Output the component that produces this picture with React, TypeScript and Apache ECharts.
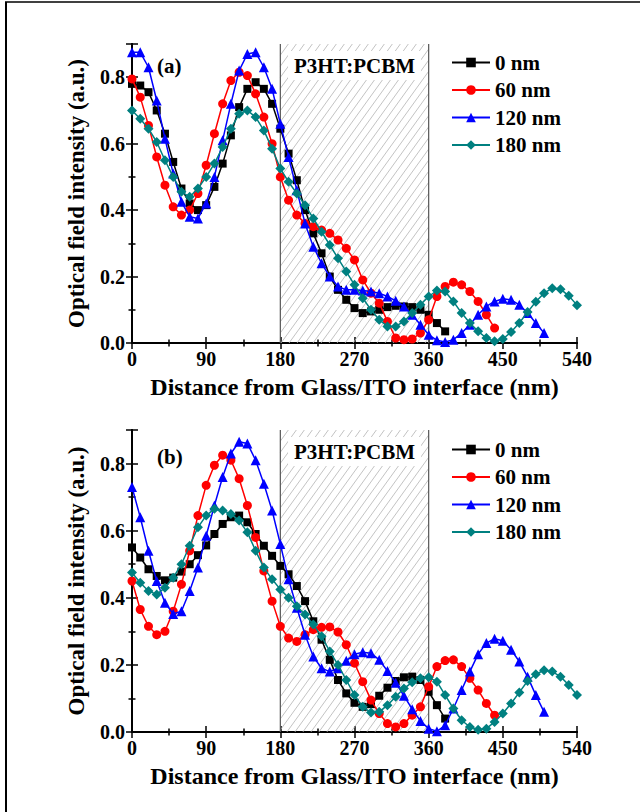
import React, { useEffect, useRef } from 'react';
import * as echarts from 'echarts';

// Distance from Glass/ITO interface (nm), sample positions
const distance = [
  0, 10, 20, 30, 40, 50, 60, 70, 80, 90, 100, 110, 120, 130, 140, 150, 160, 170, 180, 190,
  200, 210, 220, 230, 240, 250, 260, 270, 280, 290, 300, 310, 320, 330, 340, 350, 360, 370, 380, 390,
  400, 410, 420, 430, 440, 450, 460, 470, 480, 490, 500, 510, 520, 530, 540,
];

const seriesNames = ['0 nm', '60 nm', '120 nm', '180 nm'];

// Panel (a)
const a0nm = [
  0.78, 0.775, 0.755, 0.70, 0.63, 0.545, 0.465, 0.42, 0.40, 0.415, 0.47, 0.54, 0.625, 0.71, 0.765, 0.785, 0.765, 0.72, 0.645, 0.57,
  0.49, 0.40, 0.33, 0.27, 0.20, 0.16, 0.13, 0.105, 0.09, 0.095, 0.10, 0.108, 0.112, 0.11, 0.108, 0.10, 0.085, 0.06, 0.035,
];
const a60nm = [
  0.795, 0.74, 0.655, 0.56, 0.475, 0.41, 0.385, 0.40, 0.45, 0.535, 0.63, 0.72, 0.79, 0.815, 0.805, 0.75, 0.68, 0.60, 0.50, 0.43,
  0.385, 0.36, 0.35, 0.34, 0.33, 0.31, 0.285, 0.25, 0.19, 0.15, 0.12, 0.065, 0.015, 0.01, 0.012, 0.03, 0.07, 0.14, 0.17, 0.183,
  0.175, 0.155, 0.125, 0.085, 0.045,
];
const a120nm = [
  0.875, 0.875, 0.83, 0.73, 0.615, 0.51, 0.425, 0.38, 0.375, 0.42, 0.50, 0.61, 0.72, 0.82, 0.87, 0.875, 0.83, 0.765, 0.66, 0.56,
  0.46, 0.36, 0.29, 0.24, 0.20, 0.17, 0.16, 0.16, 0.158, 0.155, 0.15, 0.14, 0.127, 0.11, 0.085, 0.055, 0.025, 0.008, 0.003, 0.01,
  0.03, 0.055, 0.085, 0.11, 0.125, 0.133, 0.13, 0.115, 0.09, 0.06, 0.03,
];
const a180nm = [
  0.70, 0.675, 0.645, 0.605, 0.55, 0.50, 0.455, 0.44, 0.465, 0.50, 0.54, 0.59, 0.645, 0.69, 0.70, 0.68, 0.64, 0.585, 0.525, 0.485,
  0.45, 0.415, 0.375, 0.335, 0.295, 0.255, 0.215, 0.175, 0.135, 0.10, 0.07, 0.05, 0.05, 0.065, 0.09, 0.115, 0.14, 0.158, 0.155, 0.125,
  0.09, 0.06, 0.035, 0.015, 0.005, 0.012, 0.033, 0.06, 0.093, 0.124, 0.15, 0.165, 0.162, 0.142, 0.114,
];

// Panel (b)
const b0nm = [
  0.55, 0.52, 0.485, 0.465, 0.452, 0.46, 0.478, 0.50, 0.527, 0.556, 0.59, 0.62, 0.64, 0.645, 0.625, 0.59, 0.555, 0.525, 0.495, 0.47,
  0.435, 0.39, 0.33, 0.275, 0.215, 0.155, 0.115, 0.087, 0.075, 0.083, 0.108, 0.132, 0.152, 0.163, 0.165, 0.155, 0.12, 0.08, 0.04,
];
const b60nm = [
  0.45, 0.365, 0.315, 0.29, 0.30, 0.36, 0.44, 0.54, 0.645, 0.735, 0.795, 0.825, 0.81, 0.755, 0.675, 0.58, 0.48, 0.39, 0.315, 0.28,
  0.27, 0.29, 0.305, 0.312, 0.313, 0.298, 0.26, 0.205, 0.15, 0.095, 0.055, 0.025, 0.015, 0.025, 0.05, 0.075, 0.135, 0.195, 0.213, 0.215,
  0.195, 0.16, 0.125, 0.085, 0.05,
];
const b120nm = [
  0.73, 0.64, 0.54, 0.45, 0.385, 0.352, 0.36, 0.42, 0.49, 0.585, 0.675, 0.76, 0.83, 0.865, 0.86, 0.81, 0.74, 0.66, 0.56, 0.455,
  0.37, 0.29, 0.225, 0.19, 0.18, 0.19, 0.212, 0.232, 0.238, 0.235, 0.215, 0.182, 0.147, 0.108, 0.068, 0.033, 0.01, 0.002, 0.02, 0.07,
  0.125, 0.18, 0.232, 0.265, 0.278, 0.272, 0.245, 0.21, 0.165, 0.11, 0.06,
];
const b180nm = [
  0.475, 0.445, 0.42, 0.41, 0.43, 0.46, 0.50, 0.555, 0.61, 0.645, 0.665, 0.66, 0.65, 0.63, 0.595, 0.54, 0.49, 0.455, 0.425, 0.40,
  0.375, 0.35, 0.32, 0.285, 0.24, 0.20, 0.155, 0.11, 0.075, 0.058, 0.06, 0.08, 0.105, 0.13, 0.148, 0.16, 0.163, 0.15, 0.11, 0.07,
  0.035, 0.015, 0.007, 0.01, 0.03, 0.055, 0.085, 0.118, 0.152, 0.172, 0.184, 0.18, 0.165, 0.14, 0.11,
];

const panelA = [a0nm, a60nm, a120nm, a180nm];
const panelB = [b0nm, b60nm, b120nm, b180nm];

const layerStart = 180;
const layerEnd = 360;
const layerLabel = 'P3HT:PCBM';
const xMin = 0;
const xMax = 540;
const xInterval = 90;
const yMin = 0;
const yMax = 0.9;
const yInterval = 0.2;
const xName = 'Distance from Glass/ITO interface (nm)';
const yName = 'Optical field intensity (a.u.)';
const panelLabels = ['(a)', '(b)'];

const FONT = '"Liberation Serif", "Times New Roman", serif';
const colors = ['#000000', '#ff0000', '#0000ff', '#008080'];
const symbols = ['rect', 'circle', 'triangle', 'diamond'];
const symbolSizes = [8, 9, 10, 10];

function App() {
  const ref = useRef<HTMLDivElement>(null);

  useEffect(() => {
    if (!ref.current) return;
    const chart = echarts.init(ref.current, null, { renderer: 'svg' });

    const grids = [
      { left: 132, top: 44, width: 445, height: 299 },
      { left: 132, top: 430, width: 445, height: 302 },
    ];

    const xAxes: any[] = [];
    const yAxes: any[] = [];
    grids.forEach((_, gi) => {
      xAxes.push({
        type: 'value', gridIndex: gi, position: 'bottom', min: xMin, max: xMax, interval: xInterval,
        name: xName, nameLocation: 'middle', nameGap: 32,
        nameTextStyle: { fontFamily: FONT, fontWeight: 'bold', fontSize: 24, color: '#000' },
        axisLine: { show: true, lineStyle: { color: '#000', width: 2 } },
        axisTick: { show: true, inside: true, length: 6, lineStyle: { color: '#000', width: 1.5 } },
        minorTick: { show: true, splitNumber: 2, length: 3.5, lineStyle: { color: '#000', width: 1.5 } },
        splitLine: { show: false },
        axisLabel: { show: true, margin: 6, fontFamily: FONT, fontWeight: 'bold', fontSize: 20, color: '#000' },
      });
      xAxes.push({
        type: 'value', gridIndex: gi, position: 'top', min: xMin, max: xMax, interval: xInterval,
        axisLine: { show: true, lineStyle: { color: '#000', width: 2 } },
        axisTick: { show: true, inside: true, length: 6, lineStyle: { color: '#000', width: 1.5 } },
        minorTick: { show: true, splitNumber: 2, length: 3.5, lineStyle: { color: '#000', width: 1.5 } },
        splitLine: { show: false },
        axisLabel: { show: false },
      });
      yAxes.push({
        type: 'value', gridIndex: gi, position: 'left', min: yMin, max: yMax, interval: yInterval,
        name: yName, nameLocation: 'middle', nameGap: 44,
        nameTextStyle: { fontFamily: FONT, fontWeight: 'bold', fontSize: 23, color: '#000' },
        axisLine: { show: true, lineStyle: { color: '#000', width: 2 } },
        axisTick: { show: true, inside: true, length: 6, lineStyle: { color: '#000', width: 1.5 } },
        minorTick: { show: true, splitNumber: 2, length: 3.5, lineStyle: { color: '#000', width: 1.5 } },
        splitLine: { show: false },
        axisLabel: {
          show: true, margin: 7, fontFamily: FONT, fontWeight: 'bold', fontSize: 20, color: '#000',
          formatter: (v: number) => (v > 0.85 ? '' : v.toFixed(1)),
        },
      });
      yAxes.push({
        type: 'value', gridIndex: gi, position: 'right', min: yMin, max: yMax, interval: yInterval,
        axisLine: { show: true, lineStyle: { color: '#000', width: 2 } },
        axisTick: { show: true, inside: true, length: 6, lineStyle: { color: '#000', width: 1.5 } },
        minorTick: { show: true, splitNumber: 2, length: 3.5, lineStyle: { color: '#000', width: 1.5 } },
        splitLine: { show: false },
        axisLabel: { show: false },
      });
    });

    const series: any[] = [];
    [panelA, panelB].forEach((panel, pi) => {
      series.push({
        type: 'custom',
        name: 'layer' + pi,
        xAxisIndex: pi * 2,
        yAxisIndex: pi * 2,
        silent: true,
        z: 1,
        data: [[layerStart, layerEnd]],
        renderItem: (params: any, api: any) => {
          const tl = api.coord([layerStart, yMax]);
          const br = api.coord([layerEnd, yMin]);
          const x0 = tl[0], y0 = tl[1], x1 = br[0], y1 = br[1];
          const h = y1 - y0;
          const s = 0.72;
          const step = 8;
          const children: any[] = [];
          for (let c = x0 - h * s; c < x1; c += step) {
            let xa = c, ya = y1, xb = c + h * s, yb = y0;
            if (xa < x0) { ya = y1 - (x0 - c) / s; xa = x0; }
            if (xb > x1) { yb = y1 - (x1 - c) / s; xb = x1; }
            if (ya <= yb) continue;
            children.push({
              type: 'line',
              shape: { x1: xa, y1: ya, x2: xb, y2: yb },
              style: { stroke: '#b4b4b4', lineWidth: 0.8 },
            });
          }
          children.push({ type: 'line', shape: { x1: x0, y1: y0, x2: x0, y2: y1 }, style: { stroke: '#555', lineWidth: 1.2 } });
          children.push({ type: 'line', shape: { x1: x1, y1: y0, x2: x1, y2: y1 }, style: { stroke: '#555', lineWidth: 1.2 } });
          children.push({
            type: 'text',
            x: (x0 + x1) / 2,
            y: y0 + 7,
            style: {
              text: layerLabel,
              fill: '#000',
              font: 'bold 21px ' + FONT,
              align: 'center',
              verticalAlign: 'top',
              backgroundColor: '#ffffff',
              padding: [4, 6, 4, 6],
            },
          });
          return { type: 'group', children };
        },
      });
      panel.forEach((vals, si) => {
        series.push({
          type: 'line',
          name: seriesNames[si],
          xAxisIndex: pi * 2,
          yAxisIndex: pi * 2,
          z: 3 + si,
          data: vals.map((v, i) => [distance[i], v]),
          symbol: symbols[si],
          symbolSize: symbolSizes[si],
          showSymbol: true,
          lineStyle: { color: colors[si], width: 1.5 },
          itemStyle: { color: colors[si] },
        });
      });
    });

    const legendBase = {
      orient: 'vertical',
      left: 451,
      padding: 0,
      itemWidth: 38,
      itemHeight: 12,
      itemGap: 6.5,
      selectedMode: false,
      data: seriesNames,
      textStyle: { fontFamily: FONT, fontWeight: 'bold', fontSize: 21, color: '#000' },
    };

    chart.setOption({
      animation: false,
      backgroundColor: '#ffffff',
      grid: grids,
      xAxis: xAxes,
      yAxis: yAxes,
      legend: [
        { ...legendBase, top: 52 },
        { ...legendBase, top: 439 },
      ],
      graphic: [
        { type: 'line', shape: { x1: 6, y1: 2, x2: 6, y2: 812 }, style: { stroke: '#000', lineWidth: 2 } },
        { type: 'line', shape: { x1: 5, y1: 2, x2: 640, y2: 2 }, style: { stroke: '#000', lineWidth: 1.5 } },
        { type: 'text', left: 157, top: 55, style: { text: panelLabels[0], font: 'bold 21px ' + FONT, fill: '#000' } },
        { type: 'text', left: 157, top: 446, style: { text: panelLabels[1], font: 'bold 21px ' + FONT, fill: '#000' } },
      ],
      series,
    });

    return () => chart.dispose();
  }, []);

  return (
    <div
      ref={ref}
      style={{ position: 'fixed', left: 0, top: 0, width: 640, height: 812, background: '#fff' }}
    />
  );
}

export default App;
